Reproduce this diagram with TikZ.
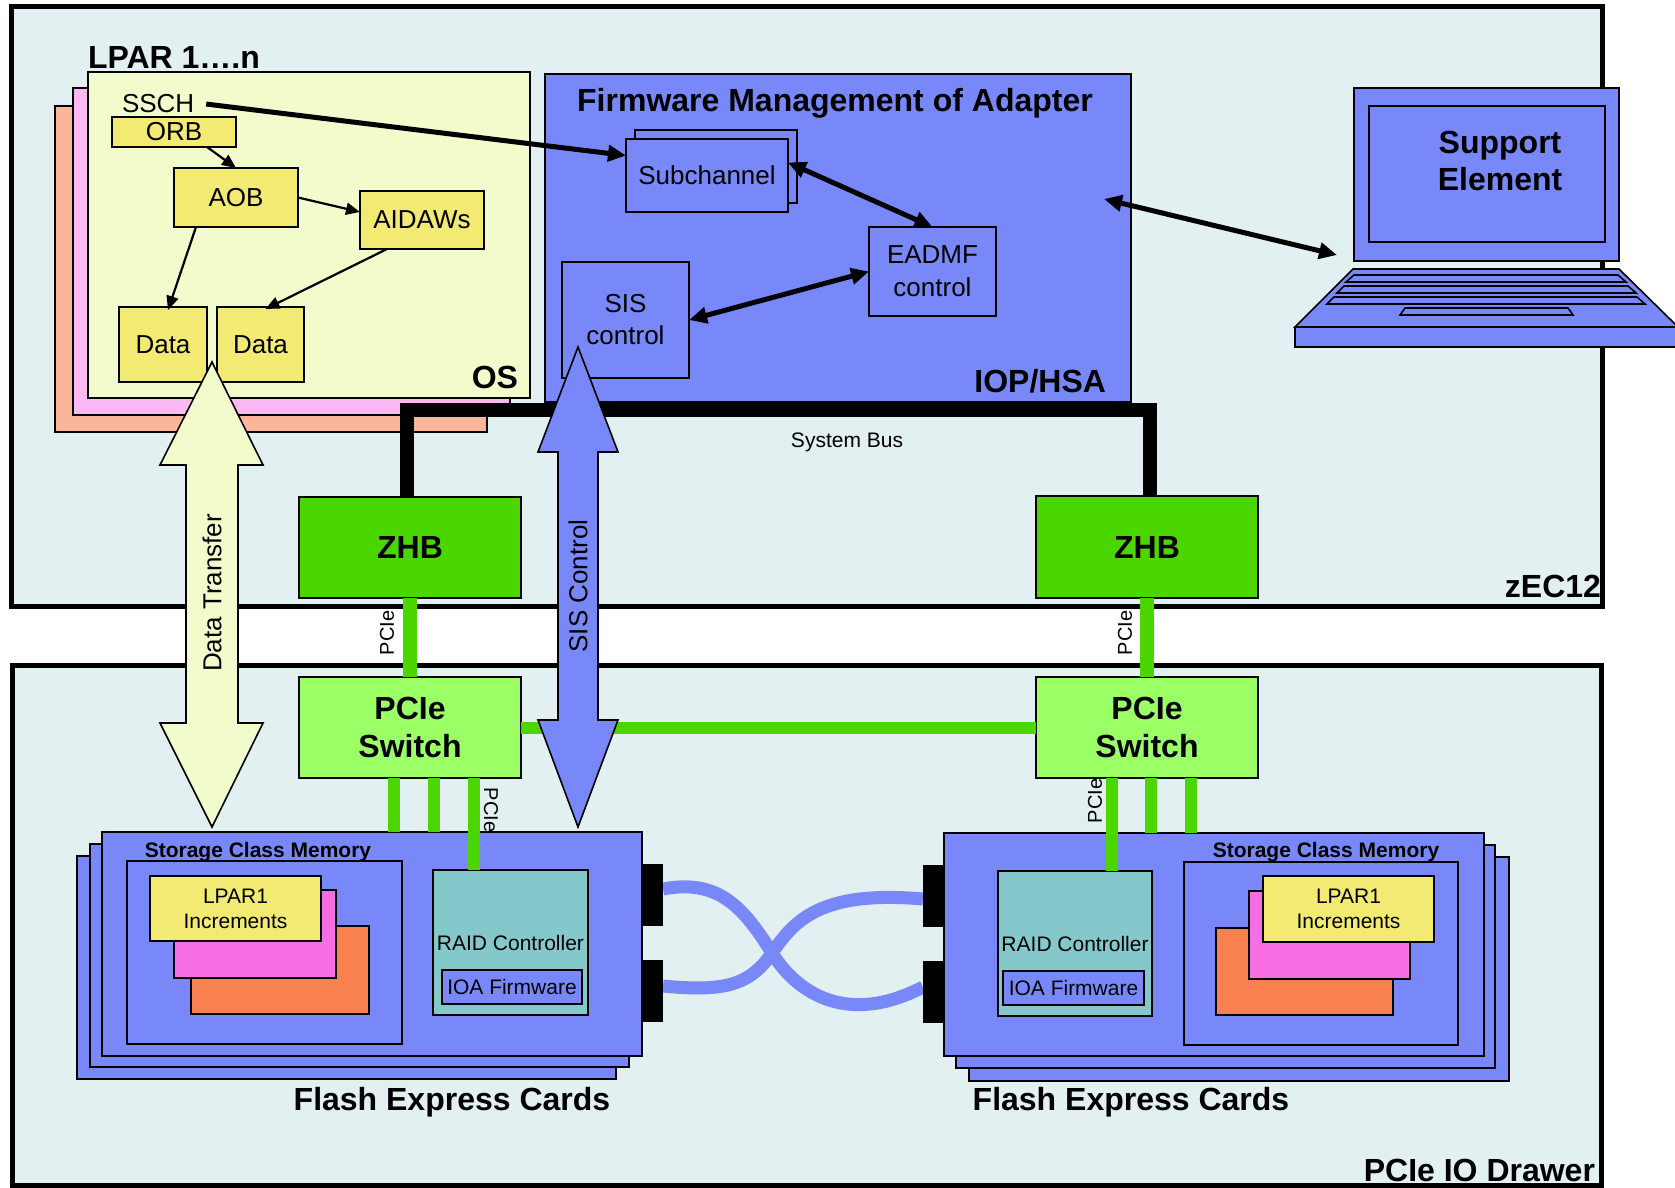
\documentclass[tikz,border=0pt]{standalone}
\usepackage{fontspec}
\setmainfont{Liberation Sans}
\usetikzlibrary{arrows.meta,calc}
\definecolor{bgc}{RGB}{226,240,241}
\definecolor{per}{RGB}{120,136,248}
\definecolor{lyel}{RGB}{242,251,204}
\definecolor{dyel}{RGB}{243,234,116}
\definecolor{lorg}{RGB}{251,181,152}
\definecolor{lpnk}{RGB}{250,185,242}
\definecolor{zgrn}{RGB}{76,214,0}
\definecolor{sgrn}{RGB}{155,255,102}
\definecolor{sorg}{RGB}{249,129,80}
\definecolor{spnk}{RGB}{246,110,228}
\definecolor{raidc}{RGB}{132,200,204}
\newcommand\fsz[2]{\fontsize{#1}{#2}\selectfont}
\begin{document}
\begin{tikzpicture}[x=1pt,y=-1pt,
  bx/.style={draw=black,line width=1.6pt,inner sep=0pt,outer sep=0pt,align=center},
  outbox/.style={fill=bgc,draw=black,line width=5pt},
  reg/.style={font=\fsz{26}{33}},
  sml/.style={font=\fsz{21}{25}},
  hdr/.style={font=\fsz{32}{38}\bfseries},
  tarr/.style={line width=2.2pt,-{Triangle[length=14pt,width=12pt]}},
  barr/.style={line width=5pt,{Triangle[length=18pt,width=16pt]}-{Triangle[length=18pt,width=16pt]}},
  pcie/.style={draw=zgrn,line width=12pt},
  cable/.style={draw=per,line width=13pt},
  blk/.style={draw=black,line width=1.6pt},
  lbl/.style={inner sep=0pt,outer sep=0pt},
  tab/.style={inner sep=0pt,outer sep=0pt,minimum width=21pt,minimum height=62pt},
]
\useasboundingbox (0,0) rectangle (1675,1188);
\fill[white] (0,0) rectangle (1675,1188);

% outer frames
\draw[outbox] (11,7) rectangle (1602,606);
\draw[outbox] (12,665) rectangle (1601,1185);

% LPAR stack
\node[bx,fill=lorg,minimum width=432pt,minimum height=326pt] (lparC) at (271,269) {};
\node[bx,fill=lpnk,minimum width=437pt,minimum height=327pt] (lparB) at (291.5,251.5) {};
\node[bx,fill=lyel,minimum width=442pt,minimum height=326pt] (os) at (309,235) {};
\node[lbl,hdr,anchor=base west] (lparlbl) at (88,69) {LPAR 1….n};
\node[lbl,hdr,anchor=base east] (oslbl) at (518,388) {OS};
\node[lbl,reg,anchor=base west] (ssch) at (122,113) {SSCH};
\node[bx,fill=dyel,reg,minimum width=124pt,minimum height=30pt] (orb) at (174,132) {ORB};
\node[bx,fill=dyel,reg,minimum width=124pt,minimum height=59pt] (aob) at (236,197.5) {AOB};
\node[bx,fill=dyel,reg,minimum width=124pt,minimum height=58pt] (aid) at (422,220) {AIDAWs};
\node[bx,fill=dyel,reg,minimum width=88pt,minimum height=75pt] (d1) at (163,344.5) {Data};
\node[bx,fill=dyel,reg,minimum width=87pt,minimum height=75pt] (d2) at (260.5,344.5) {Data};
\draw[tarr] ([xshift=33pt]orb.south) -- (aob.north);
\draw[tarr] (aob.east) -- ([yshift=8pt]aid.west);
\draw[tarr] ([xshift=-40pt]aob.south) -- ([xshift=5pt,yshift=-3pt]d1.north);
\draw[tarr] ([xshift=-35pt]aid.south) -- ([xshift=5pt,yshift=-2pt]d2.north);

% IOP / HSA
\node[bx,fill=per,minimum width=586pt,minimum height=328pt] (iop) at (838,238) {};
\node[lbl,hdr,anchor=base] (fwtitle) at (835,112) {Firmware Management of Adapter};
\node[lbl,hdr,anchor=base east] (ioplbl) at (1106,392) {IOP/HSA};
\node[bx,fill=per,minimum width=162pt,minimum height=73pt] (subB) at (716,166.5) {};
\node[bx,fill=per,reg,minimum width=162pt,minimum height=73pt] (sub) at (707,175.5) {Subchannel};
\node[bx,fill=per,minimum width=127pt,minimum height=89pt,font=\fsz{26}{33}] (eadmf) at (932.5,271.5) {EADMF\\control};
\node[bx,fill=per,minimum width=127pt,minimum height=116pt,font=\fsz{26}{32}] (sis) at (625.5,320) {SIS\\control};
\draw[barr] ([yshift=13pt]sub.east) -- (eadmf.north);
\draw[barr] (sis.east) -- (eadmf.west);
\coordinate (iopR) at (1104,199);
\draw[line width=5pt,-{Triangle[length=18pt,width=16pt]}] ([xshift=12pt]ssch.east) -- ([yshift=20pt]sub.west);

% ZHB and switches
\node[bx,fill=zgrn,hdr,minimum width=222pt,minimum height=101pt] (zhbL) at (410,547.5) {ZHB};
\node[bx,fill=zgrn,hdr,minimum width=222pt,minimum height=102pt] (zhbR) at (1147,547) {ZHB};
\node[bx,fill=sgrn,hdr,minimum width=222pt,minimum height=101pt] (swL) at (410,727.5) {PCIe\\Switch};
\node[bx,fill=sgrn,hdr,minimum width=222pt,minimum height=101pt] (swR) at (1147,727.5) {PCIe\\Switch};

% system bus
\draw[line width=14pt,line join=miter] ([xshift=-3pt]zhbL.north) -- ++(0,-87) -| ([xshift=3pt]zhbR.north);
\node[lbl,font=\fsz{21}{25},anchor=base] (sbus) at (847,447) {System Bus};

% flash cards left
\node[bx,fill=per,minimum width=539pt,minimum height=223pt] (cLc) at (346.5,967.5) {};
\node[bx,fill=per,minimum width=539pt,minimum height=223pt] (cLb) at (359.5,955.5) {};
\node[bx,fill=per,minimum width=540pt,minimum height=224pt] (cardL) at (372,944) {};
\node[bx,fill=per,minimum width=275pt,minimum height=183pt] (scmL) at (264.5,952.5) {};
\node[lbl,font=\fsz{21}{25}\bfseries,anchor=base] (scmLt) at (258,857) {Storage Class Memory};
\node[bx,fill=sorg,minimum width=178pt,minimum height=88pt] (oL) at (280,970) {};
\node[bx,fill=spnk,minimum width=162pt,minimum height=88pt] (pL) at (255,934) {};
\node[bx,fill=dyel,sml,minimum width=171pt,minimum height=65pt] (yL) at (235.5,908.5) {LPAR1\\Increments};
\node[bx,fill=raidc,sml,minimum width=155pt,minimum height=145pt] (raidL) at (510.5,942.5) {RAID Controller};
\node[bx,fill=per,sml,minimum width=140pt,minimum height=34pt] (ioaL) at (512,987) {IOA Firmware};
\node[lbl,hdr,anchor=base] (fecL) at (452,1110) {Flash Express Cards};

% flash cards right
\node[bx,fill=per,minimum width=540pt,minimum height=224pt] (cRc) at (1239,969) {};
\node[bx,fill=per,minimum width=539pt,minimum height=223pt] (cRb) at (1225.5,956.5) {};
\node[bx,fill=per,minimum width=540pt,minimum height=223pt] (cardR) at (1214,944.5) {};
\node[bx,fill=per,minimum width=274pt,minimum height=183pt] (scmR) at (1321,953.5) {};
\node[lbl,font=\fsz{21}{25}\bfseries,anchor=base] (scmRt) at (1326,857) {Storage Class Memory};
\node[bx,fill=sorg,minimum width=177pt,minimum height=87pt] (oR) at (1304.5,971.5) {};
\node[bx,fill=spnk,minimum width=161pt,minimum height=88pt] (pR) at (1329.5,935) {};
\node[bx,fill=dyel,sml,minimum width=171pt,minimum height=66pt] (yR) at (1348.5,909) {LPAR1\\Increments};
\node[bx,fill=raidc,sml,minimum width=154pt,minimum height=145pt] (raidR) at (1075,943.5) {RAID Controller};
\node[bx,fill=per,sml,minimum width=141pt,minimum height=34pt] (ioaR) at (1073.5,988) {IOA Firmware};
\node[lbl,hdr,anchor=base] (fecR) at (1131,1110) {Flash Express Cards};

% connector tabs (named), cables, then tab fills on top
\node[tab] (lt1) at (652.5,895) {};
\node[tab] (lt2) at (652.5,991) {};
\node[tab] (rt1) at (933.5,896) {};
\node[tab] (rt2) at (933.5,992) {};
\coordinate (xc) at (772,953);
\draw[cable] ([yshift=6pt]lt1.east) .. controls (720,878) and (745,910) .. (xc)
  .. controls (799,996) and (850,1025) .. ([yshift=5pt]rt2.west);
\draw[cable] ([yshift=5pt]lt2.east) .. controls (725,992) and (750,985) .. (xc)
  .. controls (794,921) and (820,890) .. ([yshift=-3pt]rt1.west);
\fill[black] (lt1.south west) rectangle (lt1.north east);
\fill[black] (lt2.south west) rectangle (lt2.north east);
\fill[black] (rt1.south west) rectangle (rt1.north east);
\fill[black] (rt2.south west) rectangle (rt2.north east);

% PCIe links
\draw[pcie,line width=14pt] (zhbL.south) -- (swL.north);
\draw[pcie,line width=14pt] (zhbR.south) -- (swR.north);
\draw[pcie] (swL.east) -- (swR.west);
\draw[pcie] ([xshift=-16pt]swL.south) -- ([xshift=-16pt]swL.south |- cardL.north);
\draw[pcie] ([xshift=24pt]swL.south) -- ([xshift=24pt]swL.south |- cardL.north);
\draw[pcie] ([xshift=64pt]swL.south) -- ([xshift=64pt]swL.south |- raidL.north);
\draw[pcie] ([xshift=-35pt]swR.south) -- ([xshift=-35pt]swR.south |- raidR.north);
\draw[pcie] ([xshift=4pt]swR.south) -- ([xshift=4pt]swR.south |- cardR.north);
\draw[pcie] ([xshift=44pt]swR.south) -- ([xshift=44pt]swR.south |- cardR.north);
\node[lbl,font=\fsz{20}{24},rotate=90] (pc1) at (387,633) {PCIe};
\node[lbl,font=\fsz{20}{24},rotate=90] (pc2) at (1125,633) {PCIe};
\node[lbl,font=\fsz{20}{24},rotate=-90] (pc3) at (491,810) {PCIe};
\node[lbl,font=\fsz{20}{24},rotate=90] (pc4) at (1095,801) {PCIe};

% block arrows
\filldraw[blk,fill=lyel] (212,362) -- (263,465) -- (238,465) -- (238,723) -- (263,723) -- (212,827) -- (160,723) -- (186,723) -- (186,465) -- (160,465) -- cycle;
\node[lbl,reg,rotate=90] (dtl) at (212,593) {Data Transfer};
\filldraw[blk,fill=per] (578,347) -- (618,452) -- (598,452) -- (598,720) -- (618,720) -- (578,827) -- (538,720) -- (558,720) -- (558,452) -- (538,452) -- cycle;
\node[lbl,reg,rotate=90] (sisl) at (578,586) {SIS Control};

% frame labels
\node[lbl,hdr,anchor=base east] (zec) at (1601,597) {zEC12};
\node[lbl,hdr,anchor=base east] (drw) at (1595,1181) {PCIe IO Drawer};

% laptop
\filldraw[blk,fill=per] (1353,269) -- (1619,269) -- (1678,327) -- (1295,327) -- cycle;
\filldraw[blk,fill=per] (1295,327) rectangle (1678,347);
\filldraw[blk,fill=per] (1354,275) -- (1618,275) -- (1626,282) -- (1346,282) -- cycle;
\filldraw[blk,fill=per] (1344,286) -- (1628,286) -- (1636,293) -- (1337,293) -- cycle;
\filldraw[blk,fill=per] (1334,297) -- (1637,297) -- (1645,304) -- (1327,304) -- cycle;
\filldraw[blk,fill=per] (1405,308) -- (1568,308) -- (1573,315) -- (1400,315) -- cycle;
\node[bx,fill=per,minimum width=265pt,minimum height=173pt] (se) at (1486.5,174.5) {};
\node[bx,fill=per,minimum width=236pt,minimum height=136pt] (sein) at (1487,174) {};
\node[lbl,align=center,font=\fsz{32}{37}\bfseries] (setxt) at (1500,161) {Support\\Element};
\draw[barr] (iopR) -- ([xshift=-17pt,yshift=6pt]se.south west);
\end{tikzpicture}
\end{document}
